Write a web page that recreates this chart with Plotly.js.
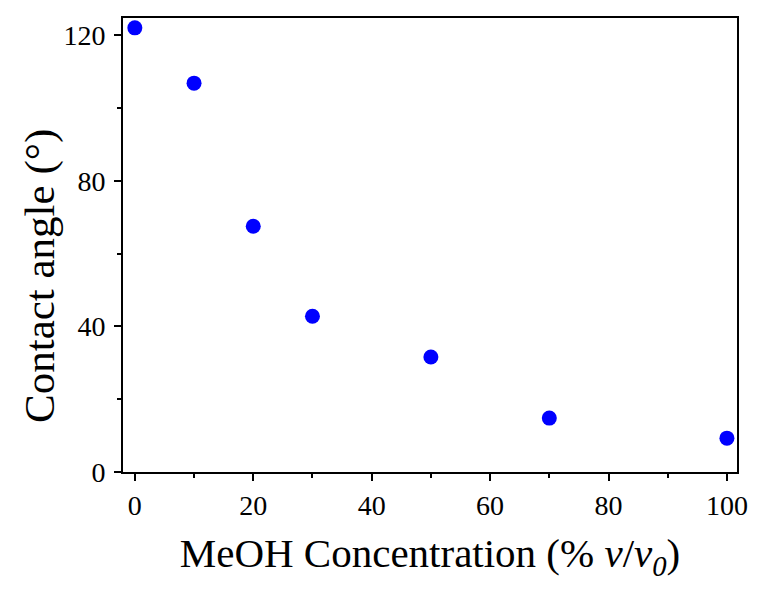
<!DOCTYPE html>
<html><head><meta charset="utf-8">
<script src="https://cdn.plot.ly/plotly-3.0.1.min.js"></script>
<style>body{margin:0;background:#fff}</style>
</head><body>
<div id="chart" style="width:761px;height:602px"></div>
<script>
const meohConc = [0, 10, 20, 30, 50, 70, 100];
const contactAngle = [122, 106.8, 67.5, 42.8, 31.6, 14.8, 9.3];
const xTickVals = [0, 20, 40, 60, 80, 100];
const yTickVals = [0, 40, 80, 120];
const xTitle = 'MeOH Concentration (% <i>v</i>/<i>v</i><sub><i>0</i></sub>)';
const yTitle = 'Contact angle (°)';

const font = "Liberation Serif, Times New Roman, serif";
const trace = {
  x: meohConc, y: contactAngle, type: 'scatter', mode: 'markers',
  marker: {color: '#0000ff', size: 15}, showlegend: false
};
const axisCommon = {
  showgrid: false, zeroline: false, showline: true, linecolor: '#000', linewidth: 2,
  mirror: true, ticks: 'outside', ticklen: 7, tickwidth: 2, tickcolor: '#000',
  tickfont: {family: font, size: 28, color: '#000'},
  minor: {ticks: 'outside', ticklen: 4, tickwidth: 2, tickcolor: '#000', showgrid: false}
};
const layout = {
  width: 761, height: 602,
  margin: {l: 123, r: 24, t: 18, b: 130},
  paper_bgcolor: '#fff', plot_bgcolor: '#fff',
  xaxis: Object.assign({}, axisCommon, {
    range: [-2, 101.7], tickvals: xTickVals, ticktext: xTickVals.map(String),
    minor: Object.assign({}, axisCommon.minor, {dtick: 10, tick0: 0}),
    title: {text: xTitle, font: {family: font, size: 41, color: '#000'}, standoff: 19}
  }),
  yaxis: Object.assign({}, axisCommon, {
    range: [0, 124.7], tickvals: yTickVals, ticktext: yTickVals.map(String),
    ticklabelstandoff: 3,
    minor: Object.assign({}, axisCommon.minor, {dtick: 20, tick0: 0})
  }),
  annotations: [{
    text: yTitle, textangle: -90, showarrow: false,
    xref: 'paper', yref: 'paper', x: -0.135, y: 0.432,
    xanchor: 'center', yanchor: 'middle',
    font: {family: font, size: 43, color: '#000'}
  }]
};
Plotly.newPlot('chart', [trace], layout, {displayModeBar: false, staticPlot: true});
</script>
</body></html>
